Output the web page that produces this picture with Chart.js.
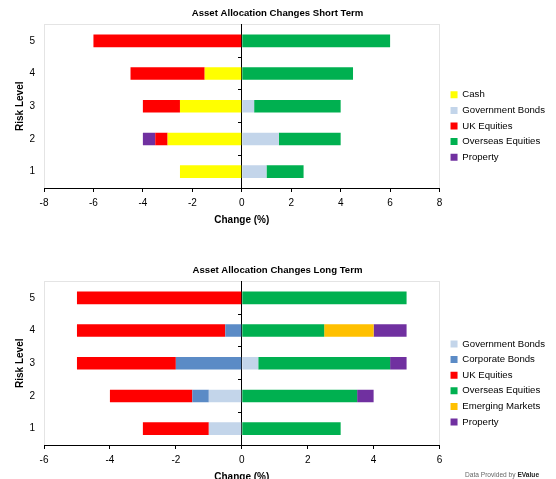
<!DOCTYPE html>
<html>
<head>
<meta charset="utf-8">
<script src="https://cdn.jsdelivr.net/npm/chart.js@4/dist/chart.umd.min.js"></script>
<style>
  html, body { margin:0; padding:0; background:#fff; width:556px; height:479px; overflow:hidden; }
  .clip { position:absolute; left:0; width:556px; overflow:hidden; }
  .box  { position:relative; width:556px; height:250px; }
  #credit { position:absolute; left:465px; top:471px; font:6.6px "Liberation Sans", Arial, sans-serif; color:#666; white-space:nowrap; }
  #credit b { color:#222; }
</style>
</head>
<body>
<div class="clip" style="top:0;height:226px"><div class="box"><canvas id="chartShort"></canvas></div></div>
<div class="clip" style="top:257px;height:222px"><div class="box"><canvas id="chartLong"></canvas></div></div>
<div id="credit">Data Provided by <b>EValue</b></div>
<script>
// ── Data ──
const riskLevels = ['5','4','3','2','1'];

// Short term (order: risk 5 → 1)
const stCash        = [0, -1.5, -2.5, -3, -2.5];
const stGovBonds    = [0, 0, 0.5, 1.5, 1];
const stUkEquities  = [-6, -3, -1.5, -0.5, 0];
const stOverseas    = [6, 4.5, 3.5, 2.5, 1.5];
const stProperty    = [0, 0, 0, -0.5, 0];
const stTicks       = { min:-8, max:8, step:2 };

// Long term (order: risk 5 → 1)
const ltGovBonds    = [0, 0, 0.5, -1, -1];
const ltCorpBonds   = [0, -0.5, -2, -0.5, 0];
const ltUkEquities  = [-5, -4.5, -3, -2.5, -2];
const ltOverseas    = [5, 2.5, 4, 3.5, 3];
const ltEmerging    = [0, 1.5, 0, 0, 0];
const ltProperty    = [0, 1, 0.5, 0.5, 0];
const ltTicks       = { min:-6, max:6, step:2 };

const COL = {
  cash:'#FFFF00', gov:'#C3D5EA', corp:'#5B8BC6', uk:'#FF0000',
  overseas:'#00B050', emerging:'#FFC000', property:'#7030A0'
};
const FONT = '"Liberation Sans", Arial, sans-serif';
const FRAME = '#e4e4e4';

// gap between plot and legend, and vertical nudge of legend
const LEGEND_GAP = 5;
const LEGEND_DY  = 9;
const legendGap = {
  id:'legendGap',
  beforeLayout(chart) {
    const lg = chart.legend;
    if (lg && !lg._gapWrapped) {
      const fit = lg.fit;
      lg.fit = function() { fit.call(this); this.width += LEGEND_GAP; };
      lg._gapWrapped = true;
    }
  },
  afterLayout(chart) {
    const lg = chart.legend;
    if (!lg) return;
    lg.left += LEGEND_GAP;
    lg.top += LEGEND_DY;
    lg.bottom += LEGEND_DY;
  }
};

function ds(label, data, color) {
  return { label, data, backgroundColor:color, borderWidth:0, barPercentage:0.385, categoryPercentage:1 };
}

function makeChart(id, title, datasets, t) {
  new Chart(document.getElementById(id), {
    type:'bar',
    data:{ labels:riskLevels, datasets },
    plugins:[legendGap],
    options:{
      indexAxis:'y',
      responsive:true, maintainAspectRatio:false, animation:false,
      layout:{ padding:{ top:8, right:1, bottom:24, left:0 } },
      plugins:{
        title:{ display:true, text:title, color:'#000', padding:{ top:0, bottom:5 },
                font:{ family:FONT, size:9.6, weight:'bold' } },
        legend:{ position:'right', maxWidth:200,
                 labels:{ boxWidth:7, boxHeight:7, padding:6, color:'#000',
                          font:{ family:FONT, size:9.6 } } },
        tooltip:{ enabled:false }
      },
      scales:{
        x:{
          stacked:true, min:t.min, max:t.max,
          ticks:{ stepSize:t.step, color:'#000', padding:5, font:{ family:FONT, size:10 } },
          border:{ color:'#000', width:1 },
          grid:{ tickLength:4, tickColor:'#000',
                 color: c => (c.tick && (c.tick.value === t.min || c.tick.value === t.max)) ? FRAME : 'rgba(0,0,0,0)' },
          title:{ display:true, text:'Change (%)', color:'#000', padding:{ top:0, bottom:0 },
                  font:{ family:FONT, size:10, weight:'bold' } }
        },
        xTop:{
          type:'linear', position:'top', min:t.min, max:t.max,
          ticks:{ display:false },
          grid:{ display:false, drawTicks:false },
          border:{ color:FRAME, width:1 }
        },
        y:{
          stacked:true,
          afterFit: s => { s.width = 44; },
          ticks:{ color:'#000', padding:9, font:{ family:FONT, size:10 } },
          border:{ display:false },
          grid:{ display:false, drawTicks:false },
          title:{ display:true, text:'Risk Level', color:'#000', padding:{ top:14, bottom:0 },
                  font:{ family:FONT, size:10, weight:'bold' } }
        },
        y2:{
          type:'category', axis:'y', labels:riskLevels,
          position:{ x:0 },
          ticks:{ display:false },
          border:{ color:'#000', width:1 },
          grid:{ offset:true, drawOnChartArea:false, tickLength:3, tickColor:'#000' }
        }
      }
    }
  });
}

makeChart('chartShort', 'Asset Allocation Changes Short Term', [
  ds('Cash', stCash, COL.cash),
  ds('Government Bonds', stGovBonds, COL.gov),
  ds('UK Equities', stUkEquities, COL.uk),
  ds('Overseas Equities', stOverseas, COL.overseas),
  ds('Property', stProperty, COL.property)
], stTicks);

makeChart('chartLong', 'Asset Allocation Changes Long Term', [
  ds('Government Bonds', ltGovBonds, COL.gov),
  ds('Corporate Bonds', ltCorpBonds, COL.corp),
  ds('UK Equities', ltUkEquities, COL.uk),
  ds('Overseas Equities', ltOverseas, COL.overseas),
  ds('Emerging Markets', ltEmerging, COL.emerging),
  ds('Property', ltProperty, COL.property)
], ltTicks);
</script>
</body>
</html>
